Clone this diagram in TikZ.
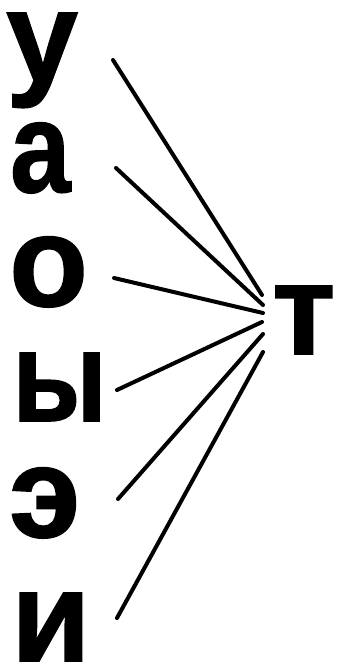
\documentclass[tikz,border=0pt]{standalone}
\usepackage{fontspec}
\setmainfont{Liberation Sans}
\newfontfamily\heavyfont{Liberation Sans Bold}[FakeBold=1.2]
\usetikzlibrary{positioning}
\tikzset{
  letter/.style={font=\heavyfont\fontsize{129}{129}\selectfont,inner sep=0pt,
    text height=67pt,text depth=0pt,anchor=base west},
  link/.style={line width=4pt,line cap=round,black}
}

\begin{document}
\begin{tikzpicture}[x=1pt,y=-1pt]
      \useasboundingbox (0,0) rectangle (338,662);
      \node[letter,text depth=22pt] (u) at (6,81) {у};
      \node[letter] (a) at (10,192) {\scalebox{0.84}[1]{а}};
      \node[letter] (o) at (9,306) {о};
      \node[letter] (y) at (12,421) {\scalebox{0.86}[1]{ы}};
      \node[letter] (e) at (9,537) {э};
      \node[letter] (i) at (11,661) {и};
      \node[letter] (t) at (272,354) {т};
      % line ends
      \coordinate (u-out) at (113,60);
      \coordinate (a-out) at (116,168);
      \coordinate (o-out) at (114,278);
      \coordinate (y-out) at (117,390);
      \coordinate (e-out) at (118,499);
      \coordinate (i-out) at (117,618);
      \coordinate (t-u) at (262,295);
      \coordinate (t-a) at (263,305);
      \coordinate (t-o) at (263,313);
      \coordinate (t-y) at (262,322);
      \coordinate (t-e) at (263,334);
      \coordinate (t-i) at (263,352);
      \foreach \v in {u,a,o,y,e,i}
        \draw[link] (\v-out) -- (t-\v);
    \end{tikzpicture}
\end{document}
